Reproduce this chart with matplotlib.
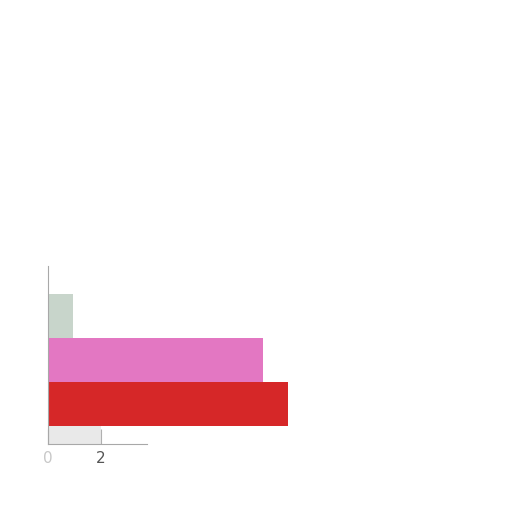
import matplotlib
matplotlib.use('Agg')
import matplotlib.pyplot as plt
import numpy as np

# data (bottom to top)
categories = ['d', 'c', 'b', 'a']
values = [2.0, 9.05, 8.1, 0.95]
colors = ['#e9e9e9', '#d62728', '#e377c2', '#c8d5cb']

xticks = [0, 2]


def main():
    fig = plt.figure(figsize=(5.12, 5.12), dpi=100)
    ax = fig.add_axes([48 / 512, 68 / 512, 265 / 512, 178 / 512])

    y = np.arange(len(categories))
    ax.barh(y, values, height=1.0, color=colors, edgecolor='none')

    ax.set_xlim(0, 10)
    ax.set_ylim(0.09, 4.14)

    ax.spines['top'].set_visible(False)
    ax.spines['right'].set_visible(False)
    ax.spines['bottom'].set_bounds(0, 3.74)
    ax.spines['left'].set_color('#a8a8a8')
    ax.spines['bottom'].set_color('#a8a8a8')

    ax.set_yticks([])
    ax.set_xticks(xticks)
    ax.set_xticklabels([str(t) for t in xticks], fontsize=11)
    ax.tick_params(axis='x', direction='in', length=11, color='#b0b0b0', pad=5)
    labels = ax.get_xticklabels()
    labels[0].set_color('#c8c8c8')
    labels[1].set_color('#555555')

    fig.savefig('out.png', dpi=100)


if __name__ == "__main__":
    main()
